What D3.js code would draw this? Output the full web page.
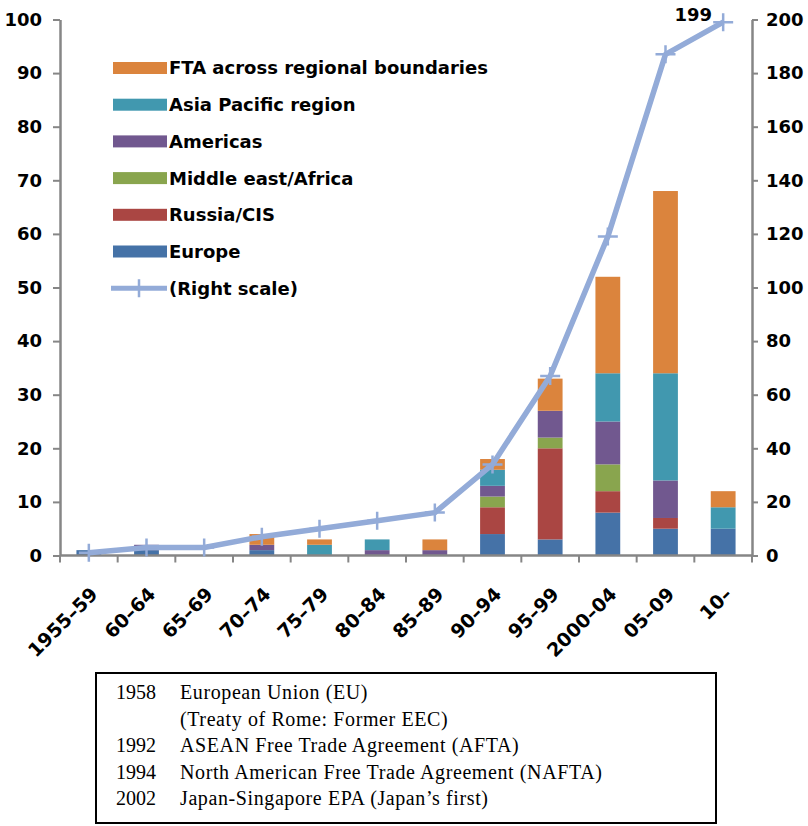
<!DOCTYPE html>
<html>
<head>
<meta charset="utf-8">
<script src="https://cdn.jsdelivr.net/npm/d3@7"></script>
<style>
  html, body { margin: 0; padding: 0; background: #fff; }
  svg { display: block; }
</style>
</head>
<body>
<script>
// ---------- data ----------
const categories = ["1955–59","60–64","65–69","70–74","75–79","80–84","85–89","90–94","95–99","2000–04","05–09","10–"];
const europe   = [1,1,0,1,0,0,0,4,3,8,5,5];
const russia   = [0,0,0,0,0,0,0,5,17,4,2,0];
const mideast  = [0,0,0,0,0,0,0,2,2,5,0,0];
const americas = [0,1,0,1,0,1,1,2,5,8,7,0];
const asia     = [0,0,0,0,2,2,0,3,0,9,20,4];
const fta      = [0,0,0,2,1,0,2,2,6,18,34,3];
const cumulative = [1,3,3,7,10,13,16,34,67,119,187,199];
const leftTicks  = [0,10,20,30,40,50,60,70,80,90,100];
const rightTicks = [0,20,40,60,80,100,120,140,160,180,200];
const seriesNames = ["Europe","Russia/CIS","Middle east/Africa","Americas","Asia Pacific region","FTA across regional boundaries"];
const lineName = "(Right scale)";
const lastLabel = "199";
const tableRows = [
  ["1958","European Union (EU)"],
  ["","(Treaty of Rome: Former EEC)"],
  ["1992","ASEAN Free Trade Agreement (AFTA)"],
  ["1994","North American Free Trade Agreement (NAFTA)"],
  ["2002","Japan-Singapore EPA (Japan’s first)"]
];

// ---------- styles ----------
const colors = ["#4572A7","#AA4643","#89A54E","#71588F","#4198AF","#DB843D"];
const lineColor = "#93ABD8";
const axisColor = "#868686";
const boldFont = "'DejaVu Sans', sans-serif";

const W = 808, H = 826;
const plotL = 60, plotR = 752, plotT = 19.5, plotB = 555.5;

const svg = d3.select("body").append("svg").attr("width", W).attr("height", H);

const x = d3.scaleBand().domain(categories).range([plotL, plotR]).paddingInner(0.57).paddingOuter(0.285);
const yL = d3.scaleLinear().domain([0,100]).range([plotB, plotT]);
const yR = d3.scaleLinear().domain([0,200]).range([plotB, plotT]);

// ---------- bars ----------
const seriesArrays = [europe, russia, mideast, americas, asia, fta];
const rows = categories.map((c, i) => {
  const r = { cat: c };
  seriesNames.forEach((n, k) => r[n] = seriesArrays[k][i]);
  return r;
});
const stacked = d3.stack().keys(seriesNames)(rows);

svg.append("g").selectAll("g").data(stacked).join("g")
  .attr("fill", (d, k) => colors[k])
  .selectAll("rect").data(d => d.filter(s => s[1] - s[0] > 0)).join("rect")
  .attr("x", d => x(d.data.cat))
  .attr("width", x.bandwidth())
  .attr("y", d => yL(d[1]))
  .attr("height", d => yL(d[0]) - yL(d[1]));

// ---------- axes ----------
const gL = svg.append("g").attr("transform", `translate(${plotL},0)`)
  .call(d3.axisLeft(yL).tickValues(leftTicks).tickSize(7).tickSizeOuter(0).tickPadding(11));
const gR = svg.append("g").attr("transform", `translate(${plotR},0)`)
  .call(d3.axisRight(yR).tickValues(rightTicks).tickSize(6).tickSizeOuter(0).tickPadding(8));
[gL, gR].forEach(g => {
  g.select(".domain").attr("stroke", axisColor).attr("stroke-width", 2.5);
  g.selectAll(".tick line").attr("stroke", axisColor).attr("stroke-width", 2);
  g.selectAll(".tick text").attr("font-family", boldFont).attr("font-weight", "bold")
    .attr("font-size", 18).attr("fill", "#000");
});

// bottom axis: line + boundary ticks
const gB = svg.append("g");
gB.append("line").attr("x1", plotL).attr("x2", plotR).attr("y1", plotB).attr("y2", plotB)
  .attr("stroke", axisColor).attr("stroke-width", 2.5);
const half = (x.step() - x.bandwidth()) / 2;
const bounds = categories.map(c => x(c) - half).concat([x(categories[categories.length-1]) + x.bandwidth() + half]);
gB.selectAll("line.tk").data(bounds).join("line").attr("class", "tk")
  .attr("x1", d => d).attr("x2", d => d).attr("y1", plotB).attr("y2", plotB + 7)
  .attr("stroke", axisColor).attr("stroke-width", 2);
gB.selectAll("text").data(categories).join("text")
  .attr("transform", d => `translate(${x(d) + x.bandwidth()/2 + 10},${plotB + 40}) rotate(-45)`)
  .attr("text-anchor", "end")
  .attr("font-family", boldFont).attr("font-weight", "bold").attr("font-size", 19)
  .text(d => d);

// ---------- line ----------
const cx = c => x(c) + x.bandwidth() / 2;
const lineGen = d3.line().x((d, i) => cx(categories[i])).y(d => yR(d));
svg.append("path").datum(cumulative).attr("d", lineGen)
  .attr("fill", "none").attr("stroke", lineColor).attr("stroke-width", 5.5).attr("stroke-linejoin", "round");
svg.append("g").selectAll("path").data(cumulative).join("path")
  .attr("d", (d, i) => {
    const px = cx(categories[i]), py = yR(d);
    return `M${px-10},${py}H${px+10}M${px},${py-9}V${py+9}`;
  })
  .attr("stroke", lineColor).attr("stroke-width", 2.5).attr("fill", "none");

svg.append("text")
  .attr("x", cx(categories[categories.length-1]) - 30)
  .attr("y", yR(cumulative[cumulative.length-1]) - 1)
  .attr("text-anchor", "middle")
  .attr("font-family", boldFont).attr("font-weight", "bold").attr("font-size", 18)
  .text(lastLabel);

// ---------- legend ----------
const legendItems = seriesNames.map((n, k) => ({ name: n, color: colors[k], type: "bar" })).reverse();
legendItems.push({ name: lineName, color: lineColor, type: "line" });
const lg = svg.append("g").selectAll("g").data(legendItems).join("g")
  .attr("transform", (d, i) => `translate(113,${68 + i * 36.7})`);
lg.filter(d => d.type === "bar").append("rect")
  .attr("x", 0).attr("y", -6).attr("width", 54).attr("height", 12).attr("fill", d => d.color);
lg.filter(d => d.type === "line").append("path")
  .attr("d", "M-2,0H54").attr("stroke", d => d.color).attr("stroke-width", 5);
lg.filter(d => d.type === "line").append("path")
  .attr("d", "M16,0H36M26,-9V9").attr("stroke", d => d.color).attr("stroke-width", 2.5);
lg.append("text").attr("x", 56).attr("y", 0).attr("dy", "0.36em")
  .attr("font-family", boldFont).attr("font-weight", "bold").attr("font-size", 18)
  .text(d => d.name);

// ---------- table box ----------
svg.append("rect").attr("x", 96).attr("y", 673).attr("width", 620).attr("height", 150)
  .attr("fill", "none").attr("stroke", "#000").attr("stroke-width", 2);
const tg = svg.append("g").selectAll("g").data(tableRows).join("g")
  .attr("transform", (d, i) => `translate(0,${699 + i * 26.6})`);
tg.append("text").attr("x", 116).text(d => d[0])
  .attr("font-family", "'Liberation Serif', serif").attr("font-size", 20);
tg.append("text").attr("x", 180).text(d => d[1])
  .attr("font-family", "'Liberation Serif', serif").attr("font-size", 20).attr("letter-spacing", 0.6);
</script>
</body>
</html>
